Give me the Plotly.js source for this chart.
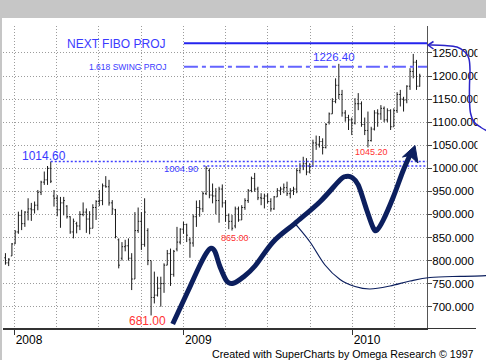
<!DOCTYPE html>
<html>
<head>
<meta charset="utf-8">
<script src="https://cdn.plot.ly/plotly-3.0.1.min.js"></script>
<style>html,body{margin:0;padding:0;background:#fff;}#chart{width:486px;height:360px;}</style>
</head>
<body>
<div id="chart"></div>
<script>
// ---- data: weekly OHLC bars ----
const weekDates = [
 "2007-12-12","2007-12-19","2007-12-26",
 "2008-01-02","2008-01-09","2008-01-16","2008-01-23","2008-01-30","2008-02-06","2008-02-13","2008-02-20","2008-02-27",
 "2008-03-05","2008-03-12","2008-03-19","2008-03-26","2008-04-02","2008-04-09","2008-04-16","2008-04-23","2008-04-30",
 "2008-05-07","2008-05-14","2008-05-21","2008-05-28","2008-06-04","2008-06-11","2008-06-18","2008-06-25","2008-07-02",
 "2008-07-09","2008-07-16","2008-07-23","2008-07-30","2008-08-06","2008-08-13","2008-08-20","2008-08-27","2008-09-03",
 "2008-09-10","2008-09-17","2008-09-24","2008-10-01","2008-10-08","2008-10-15","2008-10-22","2008-10-29","2008-11-05",
 "2008-11-12","2008-11-19","2008-11-26","2008-12-03","2008-12-10","2008-12-17","2008-12-24","2008-12-31",
 "2009-01-07","2009-01-14","2009-01-21","2009-01-28","2009-02-04","2009-02-11","2009-02-18","2009-02-25","2009-03-04",
 "2009-03-11","2009-03-18","2009-03-25","2009-04-01","2009-04-08","2009-04-15","2009-04-22","2009-04-29","2009-05-06",
 "2009-05-13","2009-05-20","2009-05-27","2009-06-03","2009-06-10","2009-06-17","2009-06-24","2009-07-01","2009-07-08",
 "2009-07-15","2009-07-22","2009-07-29","2009-08-05","2009-08-12","2009-08-19","2009-08-26","2009-09-02","2009-09-09",
 "2009-09-16","2009-09-23","2009-09-30","2009-10-07","2009-10-14","2009-10-21","2009-10-28","2009-11-04","2009-11-11",
 "2009-11-18","2009-11-25","2009-12-02","2009-12-09","2009-12-16","2009-12-23","2009-12-30",
 "2010-01-06","2010-01-13","2010-01-20","2010-01-27","2010-02-03","2010-02-10","2010-02-17","2010-02-24","2010-03-03",
 "2010-03-10","2010-03-17","2010-03-24","2010-03-31","2010-04-07","2010-04-14","2010-04-21","2010-04-28","2010-05-05",
 "2010-05-12","2010-05-19","2010-05-26"
];
const openPrices = [
 806,795,810,836,862,898,880,905,912,910,920,948,970,975,1000,940,935,910,925,918,895,862,880,875,900,905,890,870,915,928,
 930,962,960,925,910,845,805,830,832,805,760,865,885,835,865,800,720,725,740,750,790,815,770,825,840,868,878,845,838,895,
 915,912,945,995,942,940,930,955,925,898,885,875,912,888,915,930,952,978,955,936,935,940,928,912,938,952,955,958,945,952,
 955,995,1005,1010,992,1004,1055,1052,1058,1045,1100,1118,1145,1180,1160,1120,1110,1105,1098,1140,1140,1095,1082,1060,1085,1120,1118,1130,1105,1125,
 1090,1125,1160,1150,1148,1178,1210,1230,1178
];
const highPrices = [
 816,805,838,866,906,910,907,935,925,928,953,973,993,1005,1014.6,953,942,938,938,920,896,891,884,907,926,913,907,922,931,953,
 967,983,975,931,912,848,840,845,848,816,905,915,905,935,870,800,776,765,765,794,823,826,823,873,870,884,880,850,900,930,
 931,950,1004.9,1000,967,957,960,965,931,902,899,917,917,920,935,955,982,990,960,946,945,946,935,940,957,960,967,971,957,960,
 1000,1011,1025,1022,1011,1062,1071,1070,1065,1098,1121,1152,1195,1226.4,1170,1126,1116,1110,1152,1163,1145,1110,1123,1090,1126,1128,1137,1134,1130,1128,
 1130,1165,1170,1155,1180,1217,1248,1235,1205
];
const lowPrices = [
 791,788,810,836,858,866,873,887,886,902,909,942,964,964,968,917,896,871,898,891,858,848,859,866,896,860,857,870,888,918,
 920,958,919,899,848,783,800,820,800,736,760,860,823,830,790,681,707,722,700,730,790,745,765,820,835,858,840,806,830,873,
 895,905,942,935,924,900,882,915,884,868,865,870,884,888,910,925,948,949,931,920,913,924,906,910,938,942,946,940,935,942,
 946,989,996,985,989,1003,1040,1045,1030,1043,1095,1118,1141,1150,1112,1101,1083,1072,1095,1126,1090,1072,1045.2,1058,1082,1090,1105,1100,1100,1083,
 1090,1120,1134,1123,1141,1170,1195,1170,1177
];
const closePrices = [
 795,803,836,862,898,880,905,912,910,920,948,970,975,1000,972,935,910,925,930,895,862,885,875,900,905,890,870,915,928,930,
 962,960,925,912,852,790,830,832,805,760,865,885,835,905,800,720,725,740,750,790,815,770,820,840,868,878,855,838,895,915,
 912,945,1000,942,940,930,955,925,898,885,870,912,888,915,930,952,978,955,936,935,940,928,912,938,952,955,958,945,952,955,
 995,1005,1010,992,1004,1055,1052,1058,1045,1095,1118,1145,1180,1160,1120,1110,1105,1098,1140,1140,1095,1082,1060,1085,1120,1118,1130,1105,1125,1090,
 1125,1160,1150,1148,1178,1210,1230,1178,1200
];
const yTickValues = [700,750,800,850,900,950,1000,1050,1100,1150,1200,1250];
const yTickLabels = ["700.000","750.000","800.000","850.000","900.000","950.000","1000.000","1050.000","1100.000","1150.000","1200.000","1250.000"];
// price levels drawn as horizontal lines
const levelNames  = ["NEXT FIBO PROJ","1.618 SWING PROJ","1014.60","1004.90"];
const levelValues = [1271, 1220, 1014.6, 1004.9];
const levelStarts = ["2009-01-01","2009-01-01","2008-03-19","2009-02-12"];
const markedLows  = ["681.00","865.00","1045.20"];
const markedHighs = ["1226.40"];

// ---- layout geometry helpers (pixel -> paper) ----
const PL = 3, PT = 26, PW = 424, PH = 303;
const X = px => (px - PL) / PW;
const Y = py => (PT + PH - py) / PH;
const xEnd = "2010-06-10 17:00";

function smooth(pts) {
  const p = pts.map(q => [X(q[0]), Y(q[1])]);
  let d = "M" + p[0][0] + "," + p[0][1];
  for (let i = 0; i < p.length - 1; i++) {
    const p0 = p[i - 1] || p[i], p1 = p[i], p2 = p[i + 1], p3 = p[i + 2] || p2;
    const c1 = [p1[0] + (p2[0] - p0[0]) / 6, p1[1] + (p2[1] - p0[1]) / 6];
    const c2 = [p2[0] - (p3[0] - p1[0]) / 6, p2[1] - (p3[1] - p1[1]) / 6];
    d += " C" + c1[0] + "," + c1[1] + " " + c2[0] + "," + c2[1] + " " + p2[0] + "," + p2[1];
  }
  return d;
}
function poly(pts, close) {
  let d = pts.map((q, i) => (i ? "L" : "M") + X(q[0]) + "," + Y(q[1])).join(" ");
  return close ? d + " Z" : d;
}

const FONT = "Liberation Sans, Arial, sans-serif";
const BLUE = "#3a3aff", RED = "#ff3333", NAVY = "#0c1f5e";

const trace = {
  type: "ohlc",
  x: weekDates, open: openPrices, high: highPrices, low: lowPrices, close: closePrices,
  increasing: {line: {color: "#1a1a1a", width: 1}},
  decreasing: {line: {color: "#1a1a1a", width: 1}},
  tickwidth: 0.35,
  hoverinfo: "skip",
  showlegend: false
};

const shapes = [
  // window chrome
  {type: "rect", xref: "paper", yref: "paper", x0: X(0), x1: X(486), y0: Y(18), y1: Y(0), fillcolor: "#c6c6c6", line: {width: 0}, layer: "above"},
  {type: "rect", xref: "paper", yref: "paper", x0: X(0), x1: X(2), y0: Y(360), y1: Y(18), fillcolor: "#c6c6c6", line: {width: 0}, layer: "above"},
  // clip of the wide price labels at the right edge
  {type: "rect", xref: "paper", yref: "paper", x0: X(477.5), x1: X(487), y0: Y(329), y1: Y(26), fillcolor: "#ffffff", line: {width: 0}, layer: "above"},
  // bottom axis line extension
  {type: "line", xref: "paper", yref: "paper", x0: X(3), x1: X(476), y0: Y(328.5), y1: Y(328.5), line: {color: "#333", width: 1}, layer: "above"},
  // price levels
  {type: "line", xref: "x", yref: "y", x0: levelStarts[0], x1: xEnd, y0: levelValues[0], y1: levelValues[0], line: {color: "#2424ee", width: 2}},
  {type: "line", xref: "x", yref: "y", x0: levelStarts[1], x1: xEnd, y0: levelValues[1], y1: levelValues[1], line: {color: "#6464ff", width: 2, dash: "14px,4px,4px,4px"}},
  {type: "line", xref: "x", yref: "y", x0: levelStarts[2], x1: xEnd, y0: levelValues[2], y1: levelValues[2], line: {color: "#4040ff", width: 1.5, dash: "2px,2px"}},
  {type: "line", xref: "x", yref: "y", x0: levelStarts[3], x1: xEnd, y0: levelValues[3], y1: levelValues[3], line: {color: "#4040ff", width: 1.5, dash: "2px,2px"}},
  // hand drawn thick wave
  {type: "path", xref: "paper", yref: "paper", layer: "above", line: {color: NAVY, width: 5},
   path: smooth([[172.7,324],[180,308.3],[190,286.7],[200,265],[206.7,252.7],[211,248.3],[215,251.7],[220,266.7],[226.7,281],[233.3,283.3],[243.3,277],[255,266],[273.3,241.7],[295,223.3],[320,201.7],[340,180],[346,176.5],[352,177.5],[358.3,185],[366.7,210],[373.3,228],[377,230],[383.3,220],[393.3,197],[403,171],[410.5,154]])},
  {type: "path", xref: "paper", yref: "paper", layer: "above", line: {color: NAVY, width: 1}, fillcolor: NAVY,
   path: poly([[415,145.5],[402.5,157],[409.5,155.5],[418,163]], true)},
  // thin line
  {type: "path", xref: "paper", yref: "paper", layer: "above", line: {color: NAVY, width: 1.2},
   path: smooth([[295,223.5],[310,242],[325,265],[340,279.5],[355,286.5],[370,289],[390,286],[410,281],[430,277.5],[460,276.3],[487,275.7]])},
  // right bracket
  {type: "path", xref: "paper", yref: "paper", layer: "above", line: {color: "#2b24c8", width: 1.5},
   path: smooth([[428,45],[445,45.5],[457,47],[465,52],[469,59],[470,70],[469.5,85],[469.5,100],[470.5,113],[474,122],[481,127.5],[488,131.5]])},
  {type: "path", xref: "paper", yref: "paper", layer: "above", line: {color: "#2b24c8", width: 1.5},
   path: poly([[433.5,41.5],[428,45],[433.5,49]], false)}
];

function note(text, cx, cy, size, color, xanchor) {
  return {xref: "paper", yref: "paper", x: X(cx), y: Y(cy), text: text, showarrow: false,
          xanchor: xanchor || "center", yanchor: "middle", font: {family: FONT, size: size, color: color}};
}
const annotations = [
  note(levelNames[0], 115.5, 44, 12, BLUE),
  note(levelNames[1], 127.5, 67, 8.5, BLUE),
  note(levelNames[2], 44, 155.5, 12, BLUE),
  note(levelNames[3], 180.5, 168.5, 9.5, BLUE),
  note(markedHighs[0], 333.5, 57.5, 11.5, BLUE),
  note(markedLows[2], 371.5, 152, 9, RED),
  note(markedLows[0], 147.5, 321, 12, RED),
  note(markedLows[1], 235.5, 238.3, 9, RED),
  note("Created with SuperCharts by Omega Research © 1997", 476, 353.5, 10.7, "#000", "right")
];

const layout = {
  width: 486, height: 360,
  margin: {l: PL, r: 486 - PL - PW, t: PT, b: 360 - PT - PH, pad: 0},
  paper_bgcolor: "#ffffff", plot_bgcolor: "#ffffff",
  showlegend: false,
  font: {family: FONT, size: 12, color: "#000"},
  xaxis: {
    type: "date", range: ["2007-12-06 17:00", xEnd], rangeslider: {visible: false},
    dtick: "M12", tick0: "2008-01-01", tickformat: "%Y",
    ticks: "outside", ticklen: 5, tickcolor: "#333", tickwidth: 1,
    ticklabelposition: "outside right",
    tickfont: {family: FONT, size: 12, color: "#000"},
    showgrid: true, gridcolor: "#9c9c9c", gridwidth: 1, griddash: "1px,2px",
    minor: {dtick: "M3", tick0: "2008-01-01", showgrid: true, gridcolor: "#9c9c9c", gridwidth: 1, griddash: "1px,2px", ticks: ""},
    showline: true, linecolor: "#333", linewidth: 1, zeroline: false, fixedrange: true
  },
  yaxis: {
    side: "right", range: [651.6, 1308.5],
    tickvals: yTickValues, ticktext: yTickLabels,
    ticks: "outside", ticklen: 4, tickcolor: "#444", tickwidth: 1,
    tickfont: {family: FONT, size: 11.5, color: "#000"},
    ticklabelstandoff: -2,
    showgrid: true, gridcolor: "#9c9c9c", gridwidth: 1, griddash: "1px,2px",
    showline: true, linecolor: "#555", linewidth: 1, zeroline: false, fixedrange: true
  },
  shapes: shapes,
  annotations: annotations
};

Plotly.newPlot("chart", [trace], layout, {staticPlot: true, displayModeBar: false});
</script>
</body>
</html>
